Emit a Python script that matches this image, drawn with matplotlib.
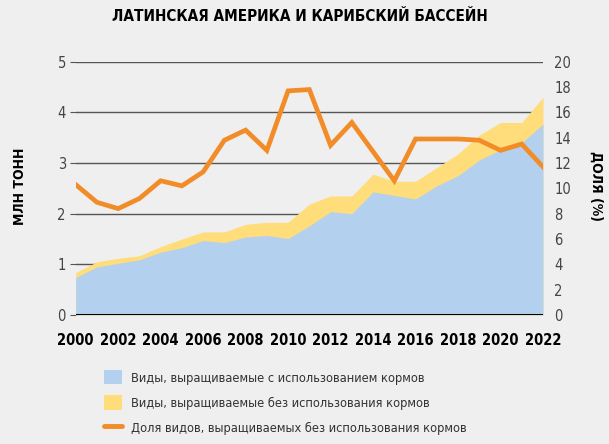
import matplotlib
matplotlib.use("Agg")
import matplotlib.pyplot as plt
from matplotlib import font_manager
from matplotlib.patches import Patch
from matplotlib.lines import Line2D

years = list(range(2000, 2023))
fed = [0.74, 0.95, 1.02, 1.09, 1.24, 1.33, 1.47, 1.43, 1.54, 1.57, 1.51, 1.76,
       2.04, 2.00, 2.43, 2.36, 2.29, 2.55, 2.75, 3.06, 3.26, 3.40, 3.77]
total = [0.84, 1.05, 1.12, 1.17, 1.35, 1.50, 1.64, 1.64, 1.79, 1.83, 1.83, 2.19,
         2.35, 2.35, 2.78, 2.64, 2.64, 2.91, 3.18, 3.55, 3.80, 3.80, 4.30]
share = [10.3, 8.9, 8.4, 9.2, 10.6, 10.2, 11.3, 13.8, 14.6, 13.0, 17.7, 17.8,
         13.4, 15.2, 12.9, 10.6, 13.9, 13.9, 13.9, 13.8, 13.0, 13.5, 11.7]
xticks = list(range(2000, 2023, 2))
left_ticks = [0, 1, 2, 3, 4, 5]
right_ticks = list(range(0, 21, 2))

title = "ЛАТИНСКАЯ АМЕРИКА И КАРИБСКИЙ БАССЕЙН"
ylabel_left = "МЛН ТОНН"
ylabel_right = "ДОЛЯ (%)"
lab_fed = "Виды, выращиваемые с использованием кормов"
lab_nonfed = "Виды, выращиваемые без использования кормов"
lab_share = "Доля видов, выращиваемых без использования кормов"

names = {f.name for f in font_manager.fontManager.ttflist}
if "Liberation Sans Narrow" in names:
    fam = "Liberation Sans Narrow"
    stretch = "normal"
else:
    fam = "DejaVu Sans"
    stretch = "condensed"
plt.rcParams["font.family"] = [fam, "DejaVu Sans"]
plt.rcParams["font.stretch"] = stretch

bg = "#efefef"
blue = "#b3d1ee"
yellow = "#fedd7a"
orange = "#f28c28"

fig = plt.figure(figsize=(6.09, 4.44), dpi=100, facecolor=bg)
ax = fig.add_axes([0.1243, 0.2905, 0.8916 - 0.1243, 0.861 - 0.2905])
ax.set_facecolor(bg)

ax.fill_between(years, 0, total, color=yellow, lw=0, zorder=2)
ax.fill_between(years, 0, fed, color=blue, lw=0, zorder=3)

for t in left_ticks[1:]:
    ax.axhline(t, color="#555555", lw=1.0, zorder=1)
ax.axhline(0, color="black", lw=2.2, zorder=5)

ax.set_xlim(2000, 2022)
ax.set_ylim(0, 5)
ax.set_xticks(xticks)
ax.set_xticklabels([str(x) for x in xticks], fontsize=10.5, fontweight="bold")
ax.set_yticks(left_ticks)
ax.set_yticklabels([str(v) for v in left_ticks], fontsize=10.5, color="#444444")
ax.tick_params(axis="x", length=0, pad=13)
ax.tick_params(axis="y", length=4, width=0.8, color="#555555", pad=3)
for s in ax.spines.values():
    s.set_visible(False)

ax2 = ax.twinx()
ax2.set_ylim(0, 20)
ax2.plot(years, share, color=orange, lw=3.4, zorder=6, solid_joinstyle="miter")
ax2.set_yticks(right_ticks)
ax2.set_yticklabels([str(v) for v in right_ticks], fontsize=10.5, color="#444444")
ax2.tick_params(axis="y", length=0, pad=8)
for s in ax2.spines.values():
    s.set_visible(False)

fig.text(0.493, 0.962, title, ha="center", va="center", fontsize=11, fontweight="bold")
fig.text(0.033, 0.58, ylabel_left, rotation=90, ha="center", va="center",
         fontsize=10, fontweight="bold")
fig.text(0.979, 0.58, ylabel_right, rotation=-90, ha="center", va="center",
         fontsize=10, fontweight="bold")

handles = [Patch(facecolor=blue, edgecolor="none"),
           Patch(facecolor=yellow, edgecolor="none"),
           Line2D([0], [0], color=orange, lw=3.5, solid_capstyle="round")]
fig.legend(handles, [lab_fed, lab_nonfed, lab_share], loc="upper left",
           bbox_to_anchor=(0.163, 0.178), frameon=False, fontsize=9.2,
           handlelength=1.35, handleheight=1.35, labelspacing=0.85,
           handletextpad=0.7, labelcolor="#333333", borderaxespad=0)

fig.savefig("out.png", dpi=100, facecolor=bg)
